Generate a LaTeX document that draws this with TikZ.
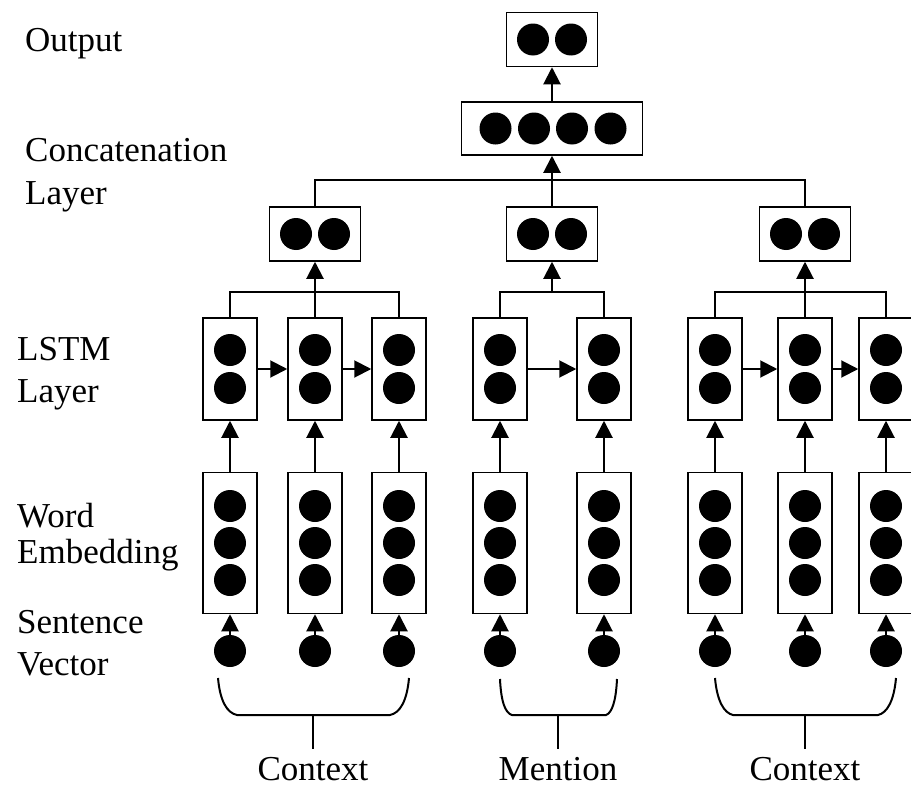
\documentclass[tikz,border=0pt]{standalone}
\usepackage{fontspec}
\setmainfont{Liberation Serif}
\usetikzlibrary{arrows.meta}

\begin{document}
\begin{tikzpicture}[x=1pt, y=-1pt,
    box/.style={draw, line width=1.5pt, inner sep=0pt},
    lstmbox/.style={box, minimum width=54pt, minimum height=102pt},
    embbox/.style={box, minimum width=54pt, minimum height=141pt},
    pairbox/.style={box, minimum width=91pt, minimum height=54pt},
    catbox/.style={box, minimum width=181pt, minimum height=53pt},
    dot/.style={circle, fill=black, minimum size=32pt, inner sep=0pt},
    lbl/.style={anchor=base west, inner sep=0pt, font=\fontsize{35}{40}\selectfont},
    word/.style={anchor=base, inner sep=0pt, font=\fontsize{35}{40}\selectfont},
    conn/.style={line width=2pt},
    arr/.style={conn, -{Triangle[length=17pt,width=17pt]}},
  ]
    \useasboundingbox (0,0) rectangle (911,787);

    % layer names
    \node[lbl] (tOut) at (25,51) {Output};
    \node[lbl] (tCat1) at (25,161) {Concatenation};
    \node[lbl] (tCat2) at (25,204) {Layer};
    \node[lbl] (tLstm1) at (17,360) {LSTM};
    \node[lbl] (tLstm2) at (17,402) {Layer};
    \node[lbl] (tEmb1) at (17,527) {Word};
    \node[lbl] (tEmb2) at (17,563) {Embedding};
    \node[lbl] (tSen1) at (17,633) {Sentence};
    \node[lbl] (tSen2) at (17,675) {Vector};

    % columns: sentence vector -> embedding -> lstm
    \foreach \x [count=\i] in {230,315,399,500,604,715,805,886} {
      \node[lstmbox] (l\i) at (\x,369) {};
      \node[dot] (l\i a) at (\x,350) {};
      \node[dot] (l\i b) at (\x,388) {};
      \node[embbox] (e\i) at (\x,543) {};
      \node[dot] (e\i a) at (\x,506) {};
      \node[dot] (e\i b) at (\x,543) {};
      \node[dot] (e\i c) at (\x,580) {};
      \node[dot] (s\i) at (\x,651) {};
      \draw[arr] (s\i) -- (e\i);
      \draw[arr] (e\i) -- (l\i);
    }
    \foreach \a/\b in {1/2,2/3,4/5,6/7,7/8}
      \draw[arr] (l\a) -- (l\b);

    % pooled outputs
    \node[pairbox] (gL) at (315,234) {};
    \node[pairbox] (gM) at (552,234) {};
    \node[pairbox] (gR) at (805,234) {};
    \foreach \g in {gL,gM,gR} {
      \node[dot] (\g a) at ([xshift=-19pt]\g.center) {};
      \node[dot] (\g b) at ([xshift=19pt]\g.center) {};
    }
    \coordinate (busM) at (552,293);
    \draw[conn] (l1.north) -- ++(0,-25) -| (l3.north);
    \draw[conn] (l4.north) -- ++(0,-25) -| (l5.north);
    \draw[conn] (l6.north) -- ++(0,-25) -| (l8.north);
    \draw[arr] (l2.north) -- (gL);
    \draw[arr] (busM) -- (gM);
    \draw[arr] (l7.north) -- (gR);

    % concatenation and output
    \node[catbox] (cat) at (552,128.5) {};
    \foreach \x [count=\i] in {495.5,534,572,610.5}
      \node[dot] (cat\i) at (\x,128.5) {};
    \node[pairbox] (out) at (552,39.5) {};
    \node[dot] (outa) at (533,39.5) {};
    \node[dot] (outb) at (571,39.5) {};
    \draw[conn] (gL.north) -- ++(0,-26) -| (gR.north);
    \draw[arr] (gM) -- (cat);
    \draw[arr] (cat) -- (out);

    % braces
    \node[word] (ctxL) at (313,780) {Context};
    \node[word] (men) at (558,780) {Mention};
    \node[word] (ctxR) at (805,780) {Context};
    \coordinate (bL) at (313,715);
    \coordinate (bM) at (558,715);
    \coordinate (bR) at (805,715);
    \draw[conn] (218,678) .. controls (220,701) and (227,713) .. (237,715) -- (390,715)
      .. controls (400,713) and (407,701) .. (409,678);
    \draw[conn] (500,679) .. controls (501,701) and (505,713) .. (512,715) -- (606,715)
      .. controls (612,713) and (616,701) .. (617,679);
    \draw[conn] (715,678) .. controls (717,701) and (724,713) .. (733,715) -- (878,715)
      .. controls (887,713) and (894,701) .. (896,678);
    \draw[conn, shorten >=8pt] (bL) -- (ctxL.north);
    \draw[conn, shorten >=8pt] (bM) -- (men.north);
    \draw[conn, shorten >=8pt] (bR) -- (ctxR.north);
\end{tikzpicture}
\end{document}
